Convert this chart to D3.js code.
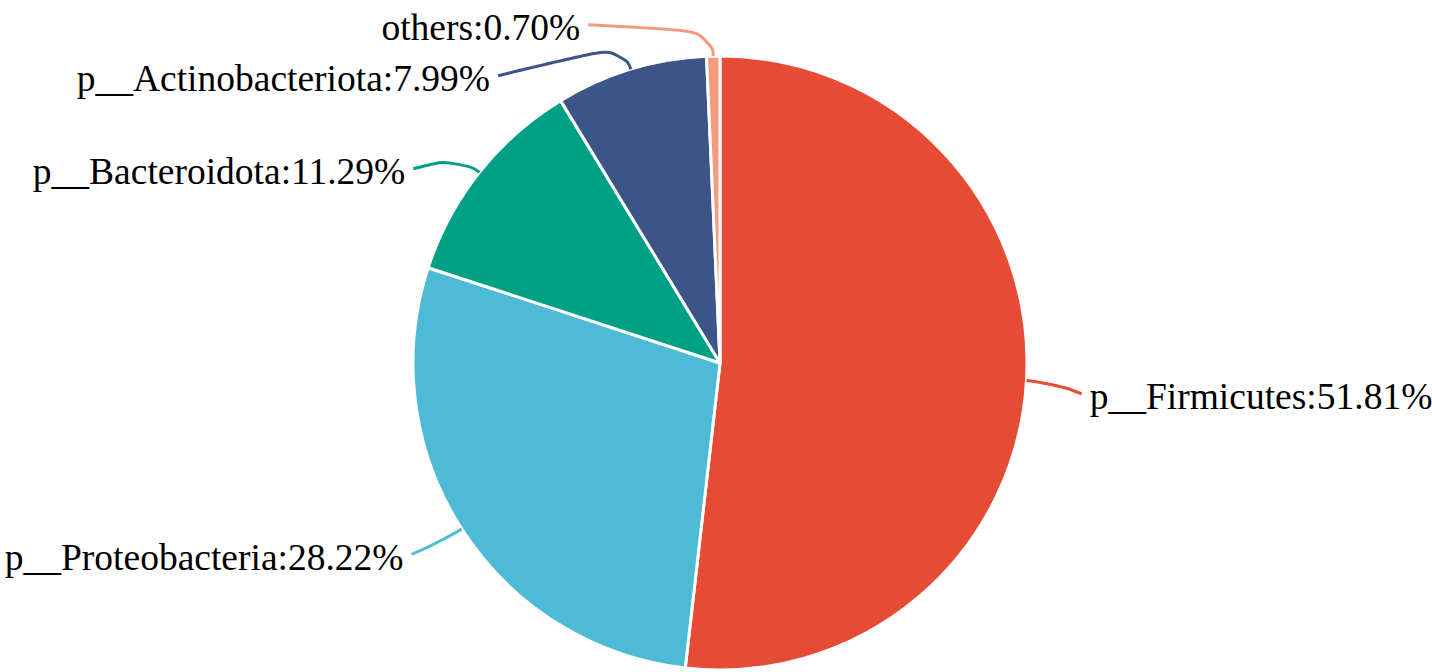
<!DOCTYPE html>
<html>
<head>
<meta charset="UTF-8">
<title>Phylum composition</title>
<script src="https://d3js.org/d3.v7.min.js"></script>
<style>
body { margin: 0; background: #fff; }
svg { display: block; }
</style>
</head>
<body>

<figure class=chart style="margin:0"></figure>

<script type="text/javascript">

/* Data */
var phyla = ['p__Firmicutes', 'p__Proteobacteria', 'p__Bacteroidota', 'p__Actinobacteriota', 'others'];
var percent = [51.81, 28.22, 11.29, 7.99, 0.70];
var colors = ['#E64B35', '#4DBBD5', '#00A087', '#3C5488', '#F39B7F'];

/* Global variables */
var W = 1432, H = 672
var cx = 720, cy = 363, R = 307
var len1 = 25			// first segment of the label line
var rLabel = R + 56		// circle the label lines end on
var labelDrop = 12		// labels sit a little below the elbow
var lineH = 51			// vertical room for one label
var fontSize = 37.5

var pie = d3.pie().sort(null).value(function(d) { return d; })
var arc = d3.arc().innerRadius(0).outerRadius(R)
var slices = pie(percent)

function polar(a, r) {
	return [cx + r * Math.sin(a), cy - r * Math.cos(a)]
}

/* Functions */

function draw_canvas() {
	return d3.select('figure')
		.append('svg')
		.attr('width', W)
		.attr('height', H)
}

function draw_slices(svg) {
	svg.append('g')
		.attr('transform', 'translate(' + cx + ',' + cy + ')')
		.selectAll('path')
		.data(slices)
		.enter()
		.append('path')
		.attr('d', arc)
		.style('fill', function(d, i) { return colors[i]; })
		.style('stroke', '#fff')
		.style('stroke-width', 3)
		.style('stroke-linejoin', 'round')
}

// push overlapping labels apart, keeping each group centred on its wanted place
function spread(items) {
	items.sort(function(a, b) { return a.y0 - b.y0; })
	var groups = items.map(function(d) { return { items: [d] }; })
	function place(g) {
		var n = g.items.length
		var mean = d3.mean(g.items, function(d) { return d.y0; })
		g.top = mean - (n - 1) * lineH / 2
		g.top = Math.max(g.top, lineH / 2 - 6)
		g.top = Math.min(g.top, H - lineH / 2 - (n - 1) * lineH)
	}
	groups.forEach(place)
	var merged = true
	while (merged) {
		merged = false
		for (var i = 1; i < groups.length; i++) {
			var a = groups[i - 1], b = groups[i]
			if (b.top - (a.top + (a.items.length - 1) * lineH) < lineH) {
				a.items = a.items.concat(b.items)
				groups.splice(i, 1)
				place(a)
				merged = true
				break
			}
		}
	}
	groups.forEach(function(g) {
		g.items.forEach(function(d, k) { d.y = g.top + k * lineH; })
	})
}

function layout_labels() {
	var labels = slices.map(function(s, i) {
		var a = (s.startAngle + s.endAngle) / 2
		var p0 = polar(a, R), p1 = polar(a, R + len1)
		return { i: i, a: a, side: Math.sin(a) < 0 ? -1 : 1, p0: p0, p1: p1, y0: p1[1] + labelDrop }
	})
	spread(labels.filter(function(d) { return d.side < 0; }))
	spread(labels.filter(function(d) { return d.side > 0; }))
	labels.forEach(function(d) {
		var dy = Math.min(Math.abs(d.y - cy), rLabel)
		var dx = Math.sqrt(rLabel * rLabel - dy * dy)
		d.p2 = [cx + d.side * Math.max(dx, Math.abs(d.p1[0] - cx) + 10), d.y]
	})
	return labels
}

// smoothed three point line, same idea as a bezier elbow
function label_path(d) {
	var p0 = d.p0, p1 = d.p1, p2 = d.p2, smooth = 0.7
	var l1 = Math.hypot(p1[0] - p0[0], p1[1] - p0[1])
	var l2 = Math.hypot(p2[0] - p1[0], p2[1] - p1[1])
	var l = Math.min(l1, l2) * smooth
	var t0 = [p1[0] + (p0[0] - p1[0]) * l / l1, p1[1] + (p0[1] - p1[1]) * l / l1]
	var t2 = [p1[0] + (p2[0] - p1[0]) * l / l2, p1[1] + (p2[1] - p1[1]) * l / l2]
	var t1 = [(t0[0] + t2[0]) / 2, (t0[1] + t2[1]) / 2]
	var path = d3.path()
	path.moveTo(p0[0], p0[1])
	path.bezierCurveTo(t0[0], t0[1], t0[0], t0[1], t1[0], t1[1])
	path.bezierCurveTo(t2[0], t2[1], t2[0], t2[1], p2[0], p2[1])
	return path.toString()
}

function draw_labels(svg) {
	var labels = layout_labels()
	var g = svg.append('g')

	g.selectAll('path')
		.data(labels)
		.enter()
		.append('path')
		.attr('d', label_path)
		.style('fill', 'none')
		.style('stroke', function(d) { return colors[d.i]; })
		.style('stroke-width', 3)

	g.selectAll('text')
		.data(labels)
		.enter()
		.append('text')
		.attr('x', function(d) { return d.p2[0] + d.side * 8; })
		.attr('y', function(d) { return d.p2[1] + 3; })
		.attr('text-anchor', function(d) { return d.side < 0 ? 'end' : 'start'; })
		.attr('dominant-baseline', 'central')
		.style('font-family', '"Liberation Serif", "Times New Roman", serif')
		.style('font-size', fontSize + 'px')
		.style('fill', '#000')
		.text(function(d) { return phyla[d.i] + ':' + percent[d.i].toFixed(2) + '%'; })
}

/* Main code */
var svg = draw_canvas()
draw_slices(svg)
draw_labels(svg)

</script>

</body>
</html>
